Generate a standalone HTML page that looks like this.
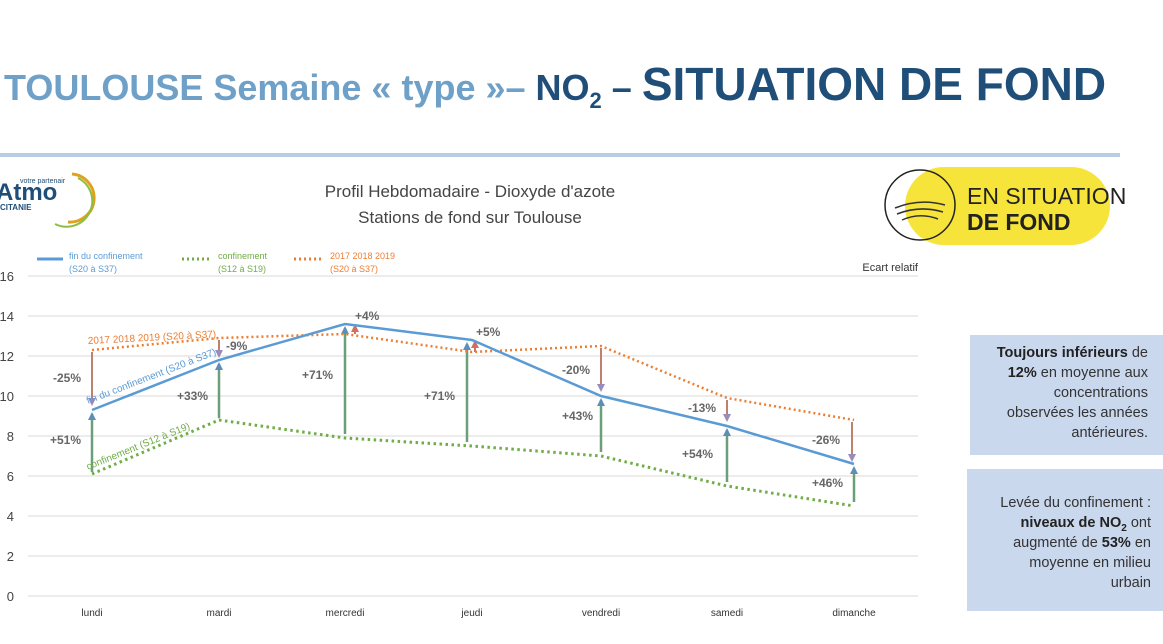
<!DOCTYPE html>
<html><head><meta charset="utf-8"><style>
body{margin:0;background:#fff;}
svg{display:block;font-family:"Liberation Sans",sans-serif;}
</style></head><body>
<svg width="1163" height="644" viewBox="0 0 1163 644">
<defs>
<marker id="ab" markerUnits="userSpaceOnUse" markerWidth="8" markerHeight="8" refX="6" refY="4" orient="auto"><path d="M0,0 L8,4 L0,8 z" fill="#5b8fb8"/></marker>
<marker id="ap" markerUnits="userSpaceOnUse" markerWidth="8" markerHeight="8" refX="6" refY="4" orient="auto"><path d="M0,0 L8,4 L0,8 z" fill="#9b8bb8"/></marker>
<marker id="ar" markerUnits="userSpaceOnUse" markerWidth="8" markerHeight="8" refX="6" refY="4" orient="auto"><path d="M0,0 L8,4 L0,8 z" fill="#d07060"/></marker>
</defs>
<text x="4" y="100" font-size="36" font-weight="bold" fill="#6fa1c8">TOULOUSE Semaine « type »– <tspan fill="#1f4e79">NO<tspan font-size="22" dy="8">2</tspan><tspan dy="-8"> – </tspan><tspan font-size="46">SITUATION DE FOND</tspan></tspan></text>
<rect x="0" y="153" width="1120" height="4" fill="#b8cde4"/>
<!-- logo -->
<text x="-4" y="200" font-size="24" font-weight="bold" fill="#1f4e79">Atmo</text>
<text x="20" y="183" font-size="7" fill="#1f4e79">votre partenair</text>
<text x="0" y="210" font-size="8" font-weight="bold" fill="#1f4e79">CITANIE</text>
<path d="M72,174 A20,20 0 0 1 68,222" stroke="#e0a020" stroke-width="3" fill="none"/>
<path d="M78,178 A24,24 0 0 1 55,224" stroke="#8bbf40" stroke-width="2" fill="none"/>
<!-- chart title -->
<text x="470" y="197" font-size="17" fill="#444" text-anchor="middle">Profil Hebdomadaire - Dioxyde d'azote</text>
<text x="470" y="223" font-size="17" fill="#444" text-anchor="middle">Stations de fond sur Toulouse</text>
<!-- badge -->
<rect x="905" y="167" width="205" height="78" rx="39" fill="#f6e43a"/>
<circle cx="920" cy="205" r="35" fill="none" stroke="#222" stroke-width="1.5"/>
<path d="M895,208 Q920,198 945,205 M897,214 Q920,205 943,212 M902,220 Q920,212 938,219" stroke="#333" stroke-width="1.5" fill="none"/>
<text x="967" y="204" font-size="23" fill="#222">EN SITUATION</text>
<text x="967" y="230" font-size="23" font-weight="bold" fill="#222">DE FOND</text>
<!-- grid -->
<g stroke="#d9d9d9" stroke-width="1">
<line x1="28" y1="276" x2="918" y2="276"/><line x1="28" y1="316" x2="918" y2="316"/><line x1="28" y1="356" x2="918" y2="356"/><line x1="28" y1="396" x2="918" y2="396"/><line x1="28" y1="436" x2="918" y2="436"/><line x1="28" y1="476" x2="918" y2="476"/><line x1="28" y1="516" x2="918" y2="516"/><line x1="28" y1="556" x2="918" y2="556"/><line x1="28" y1="596" x2="918" y2="596"/>
</g>
<g font-size="13" fill="#444" text-anchor="end">
<text x="14" y="281">16</text><text x="14" y="321">14</text><text x="14" y="361">12</text><text x="14" y="401">10</text><text x="14" y="441">8</text><text x="14" y="481">6</text><text x="14" y="521">4</text><text x="14" y="561">2</text><text x="14" y="601">0</text>
</g>
<g font-size="10" fill="#333" text-anchor="middle">
<text x="92" y="616">lundi</text><text x="219" y="616">mardi</text><text x="345" y="616">mercredi</text><text x="472" y="616">jeudi</text><text x="601" y="616">vendredi</text><text x="727" y="616">samedi</text><text x="854" y="616">dimanche</text>
</g>
<text x="918" y="271" font-size="11" fill="#333" text-anchor="end">Ecart relatif</text>
<!-- legend -->
<line x1="37" y1="259" x2="63" y2="259" stroke="#5b9bd5" stroke-width="3"/>
<text x="69" y="259" font-size="9" fill="#5b9bd5">fin du confinement</text><text x="69" y="272" font-size="9" fill="#5b9bd5">(S20 à S37)</text>
<line x1="182" y1="259" x2="210" y2="259" stroke="#70ad47" stroke-width="3" stroke-dasharray="2,3"/>
<text x="218" y="259" font-size="9" fill="#70ad47">confinement</text><text x="218" y="272" font-size="9" fill="#70ad47">(S12 à S19)</text>
<line x1="294" y1="259" x2="322" y2="259" stroke="#ed7d31" stroke-width="3" stroke-dasharray="2,3"/>
<text x="330" y="259" font-size="9" fill="#ed7d31">2017 2018 2019</text><text x="330" y="272" font-size="9" fill="#ed7d31">(S20 à S37)</text>
<!-- arrows green->blue -->
<g stroke="#6a9f7a" stroke-width="2.5" fill="none" marker-end="url(#ab)">
<line x1="92" y1="472" x2="92" y2="414"/><line x1="219" y1="418" x2="219" y2="364"/><line x1="345" y1="434" x2="345" y2="328"/><line x1="467" y1="442" x2="467" y2="344"/><line x1="601" y1="452" x2="601" y2="400"/><line x1="727" y1="482" x2="727" y2="430"/><line x1="854" y1="502" x2="854" y2="468"/>
</g>
<g stroke="#c08070" stroke-width="2" fill="none" marker-end="url(#ap)">
<line x1="92" y1="352" x2="92" y2="404"/><line x1="219" y1="340" x2="219" y2="356"/><line x1="601" y1="348" x2="601" y2="390"/><line x1="727" y1="400" x2="727" y2="420"/><line x1="852" y1="422" x2="852" y2="460"/>
</g>
<g stroke="#d07060" stroke-width="2" fill="none" marker-end="url(#ar)">
<line x1="355" y1="334" x2="355" y2="326"/><line x1="475" y1="352" x2="475" y2="342"/>
</g>
<!-- series -->
<polyline points="92,350 219,338 345,334 472,352 601,346 727,398 854,420" fill="none" stroke="#ed7d31" stroke-width="2.5" stroke-dasharray="2,3"/>
<polyline points="92,474 219,420 345,438 472,446 601,456 727,486 854,506" fill="none" stroke="#70ad47" stroke-width="3" stroke-dasharray="2.5,3.5"/>
<polyline points="92,410 219,360 345,324 472,340 601,396 727,426 854,464" fill="none" stroke="#5b9bd5" stroke-width="2.5"/>
<!-- line labels -->
<text x="88" y="344" font-size="10" fill="#ed7d31" transform="rotate(-3 88 344)">2017 2018 2019 (S20 à S37)</text>
<text x="88" y="404" font-size="10" fill="#5b9bd5" transform="rotate(-21 88 404)">fin du confinement (S20 à S37)</text>
<text x="88" y="470" font-size="10" fill="#70ad47" transform="rotate(-22 88 470)">confinement (S12 à S19)</text>
<!-- pct labels -->
<g font-size="12" font-weight="bold" fill="#666">
<text x="53" y="382">-25%</text><text x="50" y="444">+51%</text>
<text x="226" y="350">-9%</text><text x="177" y="400">+33%</text>
<text x="355" y="320">+4%</text><text x="302" y="379">+71%</text>
<text x="476" y="336">+5%</text><text x="424" y="400">+71%</text>
<text x="562" y="374">-20%</text><text x="562" y="420">+43%</text>
<text x="688" y="412">-13%</text><text x="682" y="458">+54%</text>
<text x="812" y="444">-26%</text><text x="812" y="487">+46%</text>
</g>
<!-- boxes -->
<rect x="970" y="335" width="193" height="120" fill="#cad8ee"/>
<g font-size="14.5" fill="#333" text-anchor="end">
<text x="1148" y="357"><tspan font-weight="bold" fill="#222">Toujours inférieurs</tspan> de</text>
<text x="1148" y="377"><tspan font-weight="bold" fill="#222">12%</tspan> en moyenne aux</text>
<text x="1148" y="397">concentrations</text>
<text x="1148" y="417">observées les années</text>
<text x="1148" y="437">antérieures.</text>
</g>
<rect x="967" y="469" width="196" height="142" fill="#cad8ee"/>
<g font-size="14.5" fill="#333" text-anchor="end">
<text x="1151" y="507">Levée du confinement :</text>
<text x="1151" y="527"><tspan font-weight="bold" fill="#222">niveaux de NO<tspan font-size="10" dy="4">2</tspan></tspan><tspan dy="-4"> ont</tspan></text>
<text x="1151" y="547">augmenté de <tspan font-weight="bold" fill="#222">53%</tspan> en</text>
<text x="1151" y="567">moyenne en milieu</text>
<text x="1151" y="587">urbain</text>
</g>
</svg>
</body></html>
